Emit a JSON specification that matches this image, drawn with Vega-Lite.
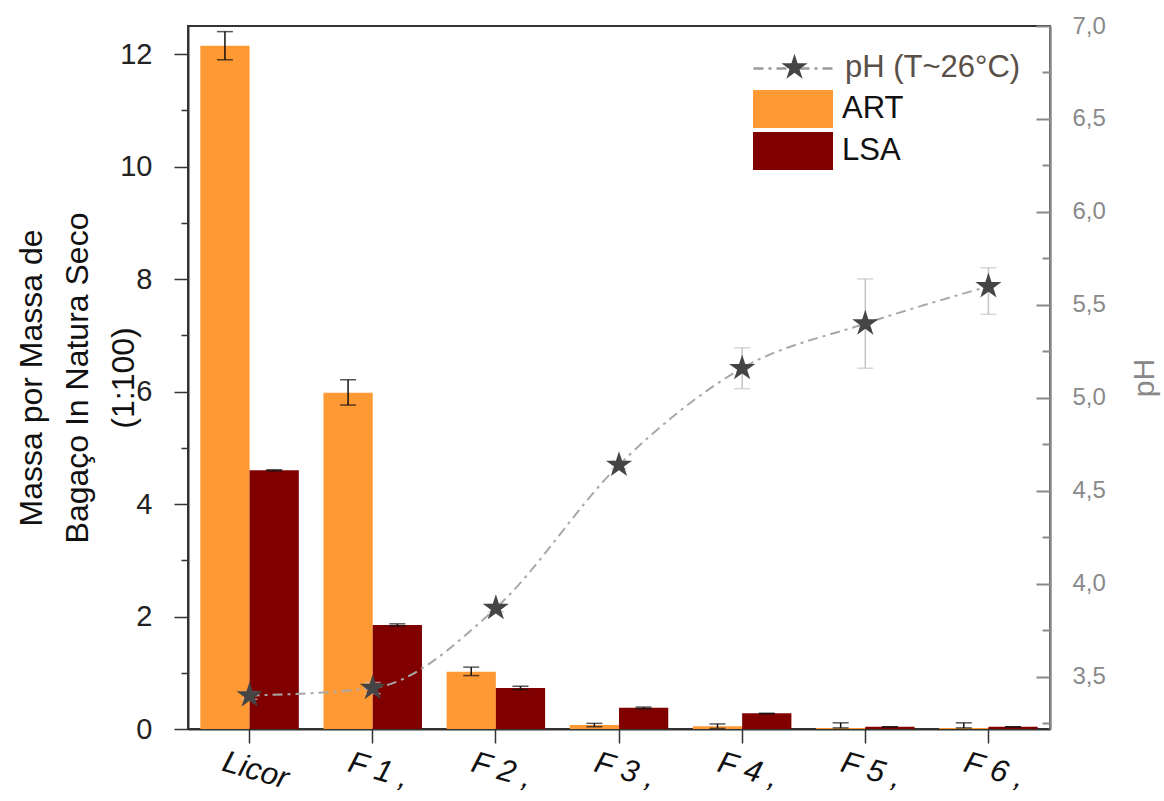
{
  "$schema": "https://vega.github.io/schema/vega-lite/v6.json",
  "width": 862,
  "height": 703,
  "autosize": {"type": "none"},
  "padding": {"left": 188, "top": 26, "right": 114, "bottom": 72},
  "background": "white",
  "config": {
    "font": "Liberation Sans",
    "view": {"stroke": "#333333", "strokeWidth": 2}
  },
  "datasets": {
    "bars": [
      {"cat": "Licor", "series": "ART", "value": 12.15, "lo": 11.9, "hi": 12.4},
      {"cat": "Licor", "series": "LSA", "value": 4.6, "lo": 4.59, "hi": 4.61},
      {"cat": "F 1 ,", "series": "ART", "value": 5.98, "lo": 5.76, "hi": 6.21},
      {"cat": "F 1 ,", "series": "LSA", "value": 1.85, "lo": 1.83, "hi": 1.87},
      {"cat": "F 2 ,", "series": "ART", "value": 1.02, "lo": 0.95, "hi": 1.1},
      {"cat": "F 2 ,", "series": "LSA", "value": 0.73, "lo": 0.7, "hi": 0.76},
      {"cat": "F 3 ,", "series": "ART", "value": 0.07, "lo": 0.04, "hi": 0.1},
      {"cat": "F 3 ,", "series": "LSA", "value": 0.38, "lo": 0.36, "hi": 0.39},
      {"cat": "F 4 ,", "series": "ART", "value": 0.05, "lo": 0.01, "hi": 0.09},
      {"cat": "F 4 ,", "series": "LSA", "value": 0.28, "lo": 0.27, "hi": 0.28},
      {"cat": "F 5 ,", "series": "ART", "value": 0.02, "lo": 0.02, "hi": 0.11},
      {"cat": "F 5 ,", "series": "LSA", "value": 0.04, "lo": 0.04, "hi": 0.04},
      {"cat": "F 6 ,", "series": "ART", "value": 0.02, "lo": 0.02, "hi": 0.11},
      {"cat": "F 6 ,", "series": "LSA", "value": 0.04, "lo": 0.04, "hi": 0.04}
    ],
    "ph": [
      {"cat": "Licor", "series": "pH (T~26°C)", "ph": 3.4, "lo": 3.38, "hi": 3.42},
      {"cat": "F 1 ,", "series": "pH (T~26°C)", "ph": 3.44, "lo": 3.41, "hi": 3.47},
      {"cat": "F 2 ,", "series": "pH (T~26°C)", "ph": 3.87, "lo": 3.85, "hi": 3.89},
      {"cat": "F 3 ,", "series": "pH (T~26°C)", "ph": 4.64, "lo": 4.62, "hi": 4.66},
      {"cat": "F 4 ,", "series": "pH (T~26°C)", "ph": 5.16, "lo": 5.05, "hi": 5.27},
      {"cat": "F 5 ,", "series": "pH (T~26°C)", "ph": 5.4, "lo": 5.16, "hi": 5.64},
      {"cat": "F 6 ,", "series": "pH (T~26°C)", "ph": 5.6, "lo": 5.45, "hi": 5.7}
    ]
  },
  "layer": [
    {
      "data": {"name": "bars"},
      "encoding": {
        "x": {
          "field": "cat",
          "type": "nominal",
          "sort": ["Licor", "F 1 ,", "F 2 ,", "F 3 ,", "F 4 ,", "F 5 ,", "F 6 ,"],
          "scale": {"paddingInner": 0.2, "paddingOuter": 0.1},
          "axis": {
            "title": null,
            "domainColor": "#333333",
            "domainWidth": 2,
            "tickColor": "#333333",
            "tickWidth": 1.5,
            "tickSize": 14,
            "labelFontSize": 31,
            "labelFontStyle": "italic",
            "labelColor": "#111111",
            "labelAngle": 16,
            "labelAlign": "center",
            "labelBaseline": "top",
            "labelPadding": 13,
            "labelOffset": 10
          }
        },
        "xOffset": {"field": "series", "type": "nominal", "sort": ["ART", "LSA"]}
      },
      "layer": [
        {
          "mark": {"type": "bar"},
          "encoding": {
            "y": {
              "field": "value",
              "type": "quantitative",
              "scale": {"domain": [0, 12.5], "nice": false, "zero": true},
              "axis": {
                "orient": "left",
                "title": ["Massa por Massa de", "Bagaço In Natura Seco", "(1:100)"],
                "titleFontSize": 32,
                "titleFontWeight": "normal",
                "titleColor": "#111111",
                "titleLineHeight": 46,
                "titlePadding": -21,
                "values": [0, 1, 2, 3, 4, 5, 6, 7, 8, 9, 10, 11, 12],
                "labelExpr": "datum.value % 2 === 0 ? format(datum.value, 'd') : ''",
                "labelFontSize": 29,
                "labelColor": "#222222",
                "labelPadding": 22,
                "domainColor": "#333333",
                "domainWidth": 2,
                "tickColor": "#333333",
                "tickWidth": 1.5,
                "tickSize": {"condition": {"test": "datum.value % 2 === 0", "value": 14}, "value": 7},
                "grid": false
              }
            },
            "color": {
              "field": "series",
              "type": "nominal",
              "scale": {"domain": ["ART", "LSA"], "range": ["#FF9933", "#800000"]},
              "legend": {
                "title": null,
                "orient": "none",
                "legendX": 585,
                "legendY": 63,
                "symbolType": "M-2,-0.95H2V0.95H-2Z",
                "symbolSize": 1600,
                "symbolStrokeWidth": 0,
                "labelFontSize": 31,
                "labelColor": "#111111",
                "labelOffset": 29,
                "rowPadding": 3,
                "padding": 0
              }
            }
          }
        },
        {
          "mark": {"type": "rule", "color": "#111111", "strokeWidth": 1.5},
          "encoding": {
            "y": {"field": "lo", "type": "quantitative"},
            "y2": {"field": "hi"}
          }
        },
        {
          "mark": {"type": "tick", "color": "#111111", "thickness": 1.5, "size": 16},
          "encoding": {"y": {"field": "lo", "type": "quantitative"}}
        },
        {
          "mark": {"type": "tick", "color": "#111111", "thickness": 1.5, "size": 16},
          "encoding": {"y": {"field": "hi", "type": "quantitative"}}
        }
      ]
    },
    {
      "data": {"name": "ph"},
      "encoding": {
        "x": {
          "field": "cat",
          "type": "nominal",
          "sort": ["Licor", "F 1 ,", "F 2 ,", "F 3 ,", "F 4 ,", "F 5 ,", "F 6 ,"]
        }
      },
      "layer": [
        {
          "mark": {"type": "line", "color": "#a8a8a8", "strokeWidth": 2, "interpolate": "monotone"},
          "encoding": {
            "y": {
              "field": "ph",
              "type": "quantitative",
              "scale": {"domain": [3.22, 7.0], "nice": false, "zero": false},
              "axis": {
                "orient": "right",
                "title": "pH",
                "titleAngle": 270,
                "titleBaseline": "top",
                "titleFontSize": 30,
                "titleFontWeight": "normal",
                "titleColor": "#888888",
                "titlePadding": 24,
                "values": [3.25, 3.5, 3.75, 4.0, 4.25, 4.5, 4.75, 5.0, 5.25, 5.5, 5.75, 6.0, 6.25, 6.5, 6.75, 7.0],
                "labelExpr": "(datum.value * 2) % 1 === 0 ? replace(format(datum.value, '.1f'), '.', ',') : ''",
                "labelFontSize": 24,
                "labelColor": "#8a8a8a",
                "labelPadding": 36,
                "domainColor": "#888888",
                "domainWidth": 2.5,
                "tickColor": "#888888",
                "tickWidth": 2,
                "tickSize": {"condition": {"test": "(datum.value * 2) % 1 === 0", "value": -14}, "value": -8},
                "grid": false
              }
            },
            "strokeDash": {
              "datum": "pH linha",
              "scale": {"range": [[10, 5, 3, 5]]},
              "legend": {
                "title": null,
                "orient": "none",
                "legendX": 564,
                "legendY": 1,
                "symbolType": "stroke",
                "symbolSize": 6400,
                "symbolStrokeColor": "#9a9a9a",
                "symbolStrokeWidth": 2.5,
                "symbolDash": [12, 46, 12, 200],
                "labelExpr": "''",
                "padding": 0,
                "encode": {
                  "symbols": {
                    "update": {
                      "strokeDash": {"value": [12, 46, 12, 200]},
                      "stroke": {"value": "#9a9a9a"}
                    }
                  }
                }
              }
            }
          }
        },
        {
          "mark": {"type": "rule", "color": "#c4c4c4", "strokeWidth": 1.5},
          "encoding": {
            "y": {"field": "lo", "type": "quantitative"},
            "y2": {"field": "hi"}
          }
        },
        {
          "mark": {"type": "tick", "color": "#c4c4c4", "thickness": 1.5, "size": 16},
          "encoding": {"y": {"field": "lo", "type": "quantitative"}}
        },
        {
          "mark": {"type": "tick", "color": "#c4c4c4", "thickness": 1.5, "size": 16},
          "encoding": {"y": {"field": "hi", "type": "quantitative"}}
        },
        {
          "mark": {"type": "point", "filled": true, "opacity": 1, "color": "#454545", "size": 760},
          "encoding": {
            "y": {"field": "ph", "type": "quantitative"},
            "shape": {
              "field": "series",
              "type": "nominal",
              "scale": {"range": ["M0,-1L0.2245,-0.309L0.951,-0.309L0.363,0.118L0.588,0.809L0,0.382L-0.588,0.809L-0.363,0.118L-0.951,-0.309L-0.2245,-0.309Z"]},
              "legend": {
                "title": null,
                "orient": "none",
                "legendX": 591,
                "legendY": 26,
                "symbolSize": 760,
                "symbolFillColor": "#454545",
                "symbolStrokeWidth": 0,
                "symbolOpacity": 1,
                "labelFontSize": 31,
                "labelLimit": 400,
                "labelColor": "#5a5048",
                "labelOffset": 35,
                "padding": 0
              }
            }
          }
        }
      ]
    }
  ],
  "resolve": {"scale": {"y": "independent", "shape": "independent", "color": "independent", "strokeDash": "independent"}}
}
